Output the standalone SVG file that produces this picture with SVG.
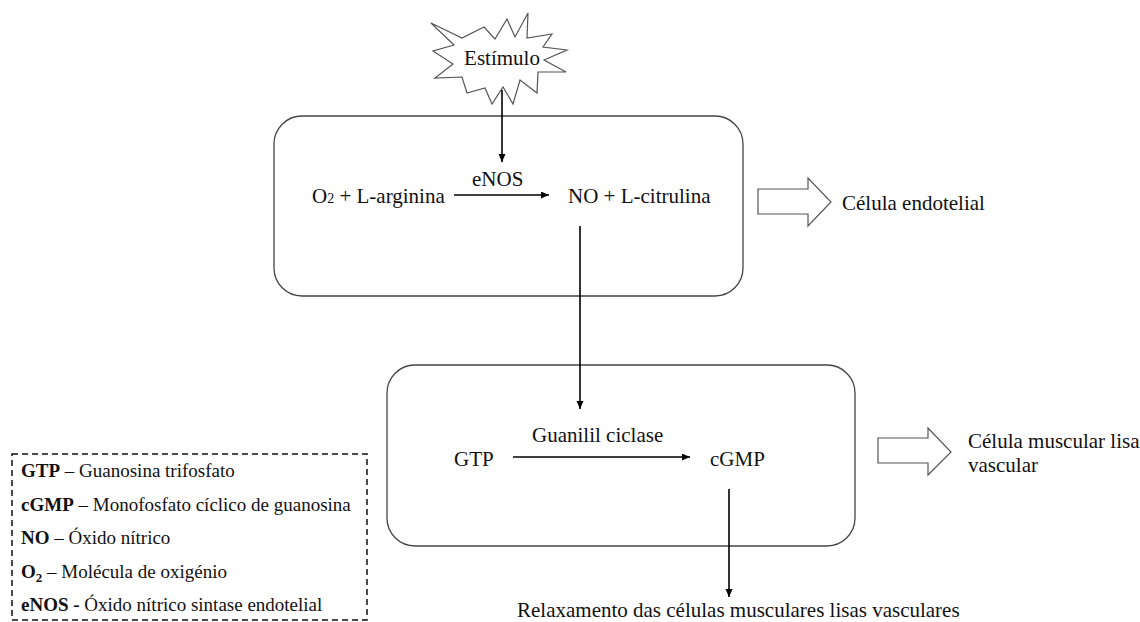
<svg xmlns="http://www.w3.org/2000/svg" width="1140" height="622" viewBox="0 0 1140 622">
<style>
.t{font-family:'Liberation Serif','Tinos','Times New Roman','DejaVu Serif',serif;font-size:21px;fill:#111}
.lg{font-family:'Liberation Serif','Tinos','Times New Roman','DejaVu Serif',serif;font-size:19px;fill:#111}
.b{font-weight:bold}
.box{fill:#fff;stroke:#444;stroke-width:1.3}
.blk{fill:#fff;stroke:#555;stroke-width:1.2}
.ln{stroke:#000;stroke-width:1.6;fill:none;marker-end:url(#ah)}
</style>
<defs>
<marker id="ah" markerUnits="userSpaceOnUse" markerWidth="9" markerHeight="8" refX="8" refY="3.5" orient="auto">
<path d="M0,0 L8,3.5 L0,7 z" fill="#000"/>
</marker>
</defs>
<rect width="1140" height="622" fill="#fff"/>
<g id="estimulo">
<polygon class="blk" points="431,23 462,38 484,27 495,39 507,19 515,37 528,13 527,38 552,34 543,47 567,50 544,60 566,72 538,72 537,93 520,80 513,104 503,87 492,104 485,88 467,93 462,77 435,78 453,64 433,51 454,45"/>
<text class="t" x="502" y="65" text-anchor="middle">Estímulo</text>
</g>
<g id="celula-endotelial-box">
<rect class="box" x="274" y="116" width="469" height="180" rx="28"/>
</g>
<g id="celula-muscular-box">
<rect class="box" x="387" y="365" width="468" height="181" rx="28"/>
</g>
<g id="reagentes1">
<text class="t" x="312" y="203">O<tspan font-size="14">2</tspan> + L-arginina</text>
</g>
<g id="enos-label">
<text class="t" x="472" y="186">eNOS</text>
</g>
<g id="produtos1">
<text class="t" x="568" y="203">NO + L-citrulina</text>
</g>
<g id="gtp">
<text class="t" x="454" y="466">GTP</text>
</g>
<g id="guanilil-label">
<text class="t" x="532" y="442">Guanilil ciclase</text>
</g>
<g id="cgmp">
<text class="t" x="710" y="466">cGMP</text>
</g>
<g id="label-endotelial">
<polygon class="blk" points="758,189 808,189 808,178 831,202 808,226 808,214 758,214"/>
<text class="t" x="842" y="210">Célula endotelial</text>
</g>
<g id="label-muscular">
<polygon class="blk" points="878,438 928,438 928,428 951,452 928,475 928,463 878,463"/>
<text class="t" x="968" y="448">Célula muscular lisa</text>
<text class="t" x="968" y="472">vascular</text>
</g>
<g id="relaxamento">
<text class="t" x="517" y="617">Relaxamento das células musculares lisas vasculares</text>
</g>
<g id="connectors">
<path class="ln" d="M502,90 V162"/>
<path class="ln" d="M454,195 H549"/>
<path class="ln" d="M580,226 V409"/>
<path class="ln" d="M513,457 H690"/>
<path class="ln" d="M729,489 V597"/>
</g>
<g id="legenda">
<rect x="12" y="454" width="355" height="166" fill="none" stroke="#111" stroke-width="1.5" stroke-dasharray="6,4"/>
<text class="lg" x="21" y="477"><tspan class="b">GTP</tspan> – Guanosina trifosfato</text>
<text class="lg" x="21" y="511"><tspan class="b">cGMP</tspan> – Monofosfato cíclico de guanosina</text>
<text class="lg" x="21" y="544"><tspan class="b">NO</tspan> – Óxido nítrico</text>
<text class="lg" x="21" y="578"><tspan class="b">O<tspan font-size="13" dy="4">2</tspan></tspan><tspan dy="-4"> – Molécula de oxigénio</tspan></text>
<text class="lg" x="21" y="611"><tspan class="b">eNOS -</tspan>  Óxido nítrico sintase endotelial</text>
</g>
</svg>
